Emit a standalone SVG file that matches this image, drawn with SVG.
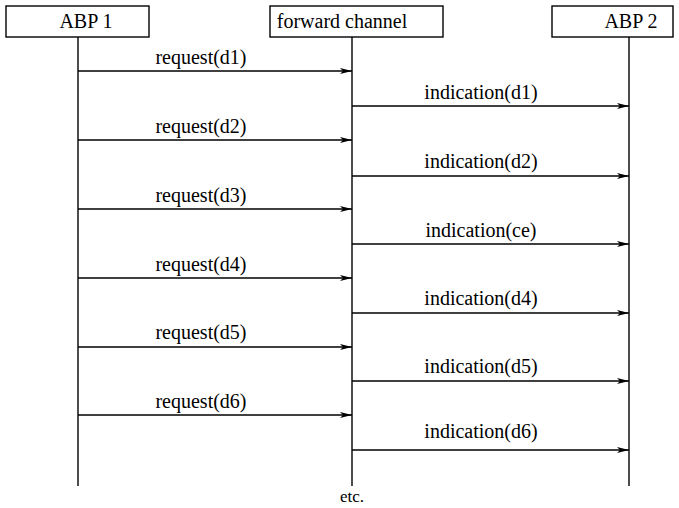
<svg xmlns="http://www.w3.org/2000/svg" width="679" height="508" viewBox="0 0 679 508">
<style>
text{font-family:"Liberation Serif","Times New Roman",serif;font-size:20px;fill:#000;text-anchor:middle}
.box{fill:#fff;stroke:#000;stroke-width:1.4}
.life{stroke:#000;stroke-width:1.4;fill:none}
.msg{stroke:#000;stroke-width:1.4;fill:none;marker-end:url(#ah)}
</style>
<defs>
<marker id="ah" viewBox="0 0 12 6" refX="12" refY="3" markerWidth="12" markerHeight="6" markerUnits="userSpaceOnUse" orient="auto">
<path d="M0,0 L12,3 L0,6 L3,3 Z" fill="#000"/>
</marker>
</defs>
<g id="abp1">
<rect class="box" x="6" y="6" width="143" height="31"/>
<text x="86" y="28">ABP 1</text>
<line class="life" x1="78" y1="37" x2="78" y2="486"/>
</g>
<g id="channel">
<rect class="box" x="270" y="6" width="173" height="31"/>
<text x="342" y="28">forward channel</text>
<line class="life" x1="352" y1="37" x2="352" y2="486"/>
</g>
<g id="abp2">
<rect class="box" x="552" y="6" width="121" height="31"/>
<text x="631" y="28">ABP 2</text>
<line class="life" x1="629" y1="37" x2="629" y2="486"/>
</g>
<g id="connectors">
<line class="msg" x1="78" y1="71" x2="352" y2="71"/>
<line class="msg" x1="352" y1="106" x2="629" y2="106"/>
<line class="msg" x1="78" y1="140" x2="352" y2="140"/>
<line class="msg" x1="352" y1="176" x2="629" y2="176"/>
<line class="msg" x1="78" y1="209" x2="352" y2="209"/>
<line class="msg" x1="352" y1="244" x2="629" y2="244"/>
<line class="msg" x1="78" y1="278" x2="352" y2="278"/>
<line class="msg" x1="352" y1="313" x2="629" y2="313"/>
<line class="msg" x1="78" y1="347" x2="352" y2="347"/>
<line class="msg" x1="352" y1="381" x2="629" y2="381"/>
<line class="msg" x1="78" y1="415" x2="352" y2="415"/>
<line class="msg" x1="352" y1="450" x2="629" y2="450"/>
</g>
<g id="labels">
<text x="201" y="64">request(d1)</text>
<text x="481" y="99">indication(d1)</text>
<text x="201" y="133">request(d2)</text>
<text x="481" y="168">indication(d2)</text>
<text x="201" y="202">request(d3)</text>
<text x="481" y="237">indication(ce)</text>
<text x="201" y="271">request(d4)</text>
<text x="481" y="305">indication(d4)</text>
<text x="201" y="339">request(d5)</text>
<text x="481" y="373">indication(d5)</text>
<text x="201" y="408">request(d6)</text>
<text x="481" y="438">indication(d6)</text>
<text x="352" y="502" style="font-size:17px">etc.</text>
</g>
</svg>
